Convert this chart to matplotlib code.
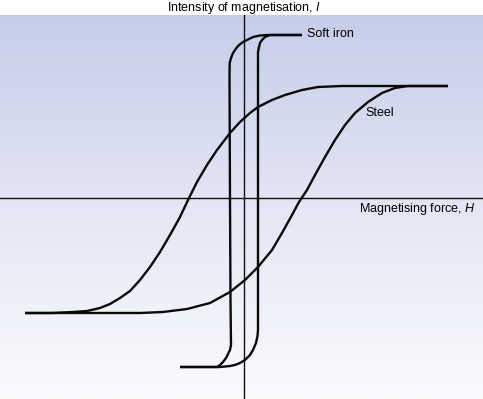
import numpy as np
import matplotlib
matplotlib.use("Agg")
import matplotlib.pyplot as plt
from matplotlib.colors import LinearSegmentedColormap

plt.rcParams['font.family'] = ['Liberation Sans', 'DejaVu Sans']
plt.rcParams['mathtext.fontset'] = 'custom'
plt.rcParams['mathtext.rm'] = 'Liberation Sans'
plt.rcParams['mathtext.it'] = 'Liberation Sans:italic'

# Steel hysteresis loop (H, I)
steel_up_H = [-219, -191, -171, -157, -144, -134, -124, -114, -104, -94, -84, -74, -64, -55,
              -47, -37, -27, -14, -4, 6, 14, 28, 41, 58, 74, 98, 124, 204]
steel_up_I = [-115, -115, -114, -113, -110, -106, -100, -93, -82, -69, -54, -37, -19, 0,
              16, 33, 48, 65, 76, 85, 91, 98, 103, 108, 111, 112, 112, 112]
steel_dn_H = [204, 164, 151, 138, 124, 111, 101, 91, 81, 71, 63, 55, 48, 38, 28, 14, 1,
              -14, -34, -57, -81, -104, -219]
steel_dn_I = [112, 112, 110, 105, 96, 85, 73, 58, 41, 23, 8, -4, -17, -35, -52, -69, -82,
              -94, -105, -111, -114, -115, -115]

# Soft iron loop
iron_a_H = [58, 23, 16, 9, 3, -1, -5, -8, -11, -13, -14.3, -14.5, -14, -13.5, -13, -14,
            -16, -18, -21, -24, -27, -64]
iron_a_I = [163, 163, 162.5, 161, 158, 156, 153, 149.5, 145, 140, 135, 123, -2, -102, -147,
            -152, -156, -160, -164, -167, -169, -169]
iron_b_H = [-64, -24, -14, -9, -4, 1, 6, 9, 12, 13.5, 14, 14, 14, 15, 16, 18, 21, 26, 58]
iron_b_I = [-169, -169, -168, -167, -165, -162, -157, -152, -145, -138, -132, -2, 146, 151,
            155, 158, 161, 163, 163]

fig = plt.figure(figsize=(4.83, 3.99), dpi=100)
ax = fig.add_axes([0, 0, 1, 1])
ax.set_xlim(-244, 239)
ax.set_ylim(-201, 198)
ax.axis('off')

cmap = LinearSegmentedColormap.from_list('bg', ['#c6cde9', '#e3e6f4', '#fbfbfe'])
grad = np.linspace(0, 1, 256).reshape(-1, 1)
ax.imshow(grad, cmap=cmap, extent=(-244, 239, -201, 183), aspect='auto', origin='upper', zorder=0)

ax.plot([-244, 239], [0, 0], color='#111111', lw=1.0, zorder=2)
ax.plot([0, 0], [-201, 183], color='#111111', lw=1.0, zorder=2)

kw = dict(color='#0a0a0a', lw=1.7, zorder=3, solid_capstyle='butt', solid_joinstyle='round')
ax.plot(steel_up_H, steel_up_I, **kw)
ax.plot(steel_dn_H, steel_dn_I, **kw)
ax.plot(iron_a_H, iron_a_I, **kw)
ax.plot(iron_b_H, iron_b_I, **kw)

ax.text(0, 190, 'Intensity of magnetisation, $I$', ha='center', va='center', fontsize=9)
ax.text(63, 164, 'Soft iron', ha='left', va='center', fontsize=9)
ax.text(121, 85, 'Steel', ha='left', va='center', fontsize=9)
ax.text(115, -11, 'Magnetising force, $H$', ha='left', va='center', fontsize=9)

fig.savefig('out.png', dpi=100)
